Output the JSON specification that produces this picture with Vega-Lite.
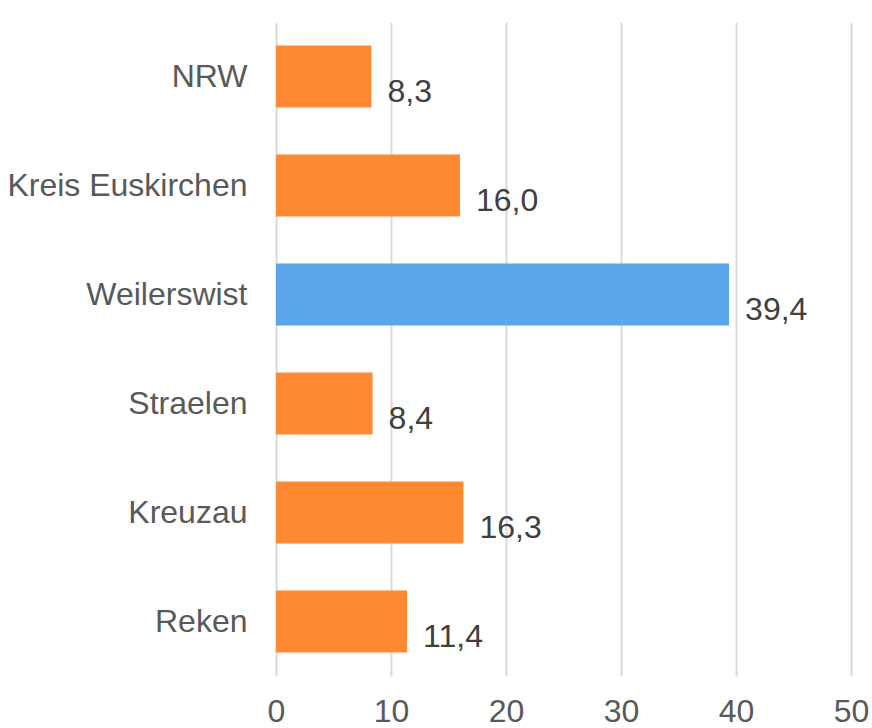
{
  "$schema": "https://vega.github.io/schema/vega-lite/v6.json",
  "autosize": {"type": "none"},
  "padding": {"left": 276, "top": 22, "right": 21, "bottom": 52},
  "width": 575,
  "height": 654,
  "background": "white",
  "config": {
    "view": {"stroke": null},
    "font": "Liberation Sans",
    "locale": {"number": {"decimal": ",", "thousands": ".", "grouping": [3], "currency": ["", " €"]}}
  },
  "data": {
    "values": [
      {"name": "NRW", "value": 8.3},
      {"name": "Kreis Euskirchen", "value": 16.0},
      {"name": "Weilerswist", "value": 39.4},
      {"name": "Straelen", "value": 8.4},
      {"name": "Kreuzau", "value": 16.3},
      {"name": "Reken", "value": 11.4}
    ]
  },
  "encoding": {
    "y": {
      "field": "name",
      "type": "nominal",
      "sort": null,
      "scale": {"paddingInner": 0.43, "paddingOuter": 0.215},
      "axis": {
        "title": null,
        "domain": false,
        "ticks": false,
        "labelFontSize": 32,
        "labelLimit": 400,
        "labelColor": "#595959",
        "labelPadding": 29,
        "labelFont": "Liberation Sans"
      }
    },
    "x": {
      "field": "value",
      "type": "quantitative",
      "scale": {"domain": [0, 50], "nice": false},
      "axis": {
        "title": null,
        "values": [0, 10, 20, 30, 40, 50],
        "domain": false,
        "ticks": false,
        "grid": true,
        "gridColor": "#D9D9D9",
        "gridWidth": 2,
        "labelFontSize": 32,
        "labelColor": "#595959",
        "labelPadding": 20,
        "labelFlush": false,
        "labelFont": "Liberation Sans"
      }
    }
  },
  "layer": [
    {
      "mark": {"type": "bar"},
      "encoding": {
        "color": {
          "condition": {"test": "datum.name === 'Weilerswist'", "value": "#5CA6EC"},
          "value": "#FF8833"
        }
      }
    },
    {
      "mark": {"type": "text", "align": "left", "baseline": "middle", "dx": 16, "dy": 15, "fontSize": 32, "color": "#404040", "font": "Liberation Sans"},
      "encoding": {
        "text": {"field": "value", "type": "quantitative", "format": ".1f"}
      }
    }
  ]
}
